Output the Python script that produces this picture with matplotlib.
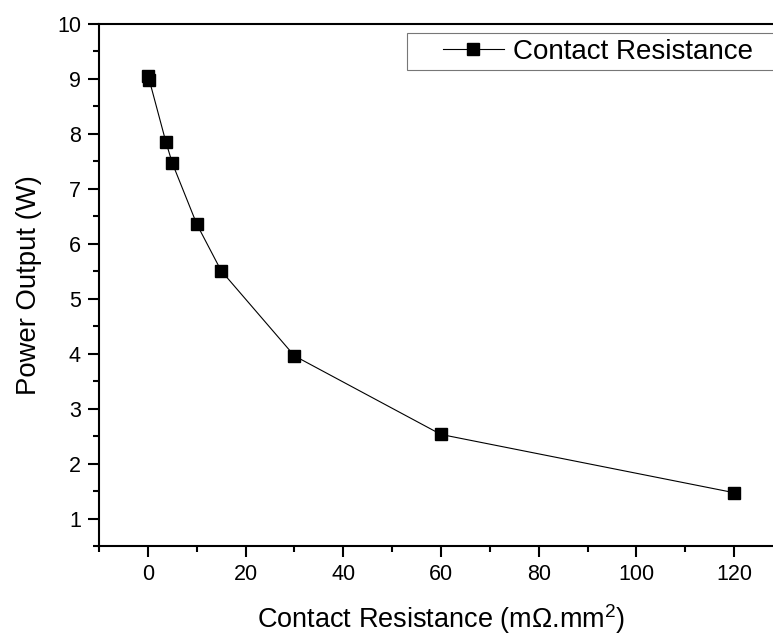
import matplotlib
matplotlib.use('Agg')
import matplotlib.pyplot as plt
from matplotlib.ticker import MultipleLocator
from matplotlib.legend_handler import HandlerLine2D

plt.rcParams['font.family'] = ['Liberation Sans', 'DejaVu Sans']
plt.rcParams['mathtext.fontset'] = 'custom'
plt.rcParams['mathtext.rm'] = 'Liberation Sans'

# Данные
resistance = [0, 0.3, 3.7, 5, 10, 15, 30, 60, 120]
power = [9.05, 8.98, 7.85, 7.47, 6.36, 5.51, 3.96, 2.53, 1.47]

W, H = 773, 635
fig = plt.figure(figsize=(W / 100, H / 100), dpi=100)
# оси выходят за правый край картинки (как в оригинале)
ax = fig.add_axes([99 / W, 1 - 546 / H, 684 / W, 522 / H])

line, = ax.plot(resistance, power, color='black', linewidth=0.8, marker='s',
                markersize=8.5, label='Contact Resistance')

ax.set_xlim(-10, 130)
ax.set_ylim(0.5, 10)
ax.xaxis.set_major_locator(MultipleLocator(20))
ax.xaxis.set_minor_locator(MultipleLocator(10))
ax.yaxis.set_major_locator(MultipleLocator(1))
ax.yaxis.set_minor_locator(MultipleLocator(0.5))

for s in ax.spines.values():
    s.set_linewidth(1.5)
ax.tick_params(which='major', direction='out', length=8, width=1.5, labelsize=15.5, pad=5)
ax.tick_params(which='minor', direction='out', length=4.5, width=1.5)

ax.set_xlabel('Contact Resistance (m$\\Omega$.mm$^2$)', fontsize=19.5, labelpad=12)
ax.set_ylabel('Power Output (W)', fontsize=19.8, labelpad=11)

# рамка легенды уходит за правый край
x0 = (407 - 99) / 684
leg = ax.legend(loc='upper left', bbox_to_anchor=(x0, 1 - 9 / 522, (790 - 407) / 684, 0),
                mode='expand', fontsize=20, frameon=True, fancybox=False, borderpad=0.2,
                handlelength=3.29, handletextpad=0.32, borderaxespad=0,
                markerscale=0.95, handler_map={line: HandlerLine2D(xpad=1.09)})
leg.get_frame().set_edgecolor('#555555')
leg.get_frame().set_linewidth(0.8)

fig.savefig('out.png', dpi=100)
